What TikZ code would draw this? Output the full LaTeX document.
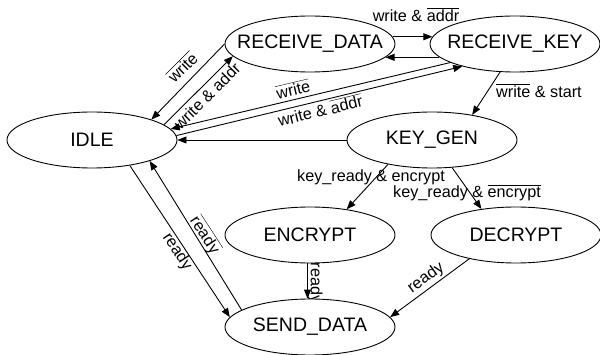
\documentclass[tikz,border=0pt]{standalone}
\usepackage{fontspec}
\setmainfont{Liberation Sans}
\usetikzlibrary{shapes.geometric,arrows.meta}
\tikzset{
  stnode/.style={ellipse, draw, fill=white, line width=0.9pt, minimum width=170pt, minimum height=56pt, inner sep=0pt, font=\fontsize{19.5}{20}\selectfont},
  lbl/.style={font=\fontsize{16.2}{17}\selectfont, inner sep=0pt},
  arr/.style={line width=0.9pt, -{Triangle[length=9pt,width=7pt]}}
}
\newcommand{\ovl}[1]{$\overline{\mbox{#1}}$}
\begin{document}
\begin{tikzpicture}[x=1pt,y=-1pt]
\useasboundingbox (0,0) rectangle (600,355);
% labels (drawn first so the ellipses cover their tails)
\node[lbl, rotate=45] (l1) at (182,67) {\ovl{write}};
\node[lbl, rotate=45] (l2) at (207,96) {write \& addr};
\node[lbl, rotate=13.3] (l3) at (293,89) {\ovl{write}};
\node[lbl, rotate=13.6] (l4) at (320,110) {write \& \ovl{addr}};
\node[lbl] (l5) at (416,15) {write \& \ovl{addr}};
\node[lbl] (l7) at (539,91) {\ovl{write} \& start};
\node[lbl] (l9) at (371,177) {key\_ready \& encrypt};
\node[lbl] (l10) at (467,193) {key\_ready \& \ovl{encrypt}};
\node[lbl, rotate=-90] (l11) at (315,283) {ready};
\node[lbl, rotate=36] (l12) at (426,278) {ready};
\node[lbl, rotate=-56.4] (l13) at (177,252) {ready};
\node[lbl, rotate=-57] (l14) at (205,235) {\ovl{ready}};
% states
\node[stnode] (idle) at (92,140) {\makebox[0pt]{IDLE}};
\node[stnode] (rd) at (310,44) {\makebox[0pt]{RECEIVE\_DATA}};
\node[stnode] (rk) at (515,44) {\makebox[0pt]{RECEIVE\_KEY}};
\node[stnode] (kg) at (432,140) {\makebox[0pt]{KEY\_GEN}};
\node[stnode] (enc) at (310,235) {\makebox[0pt]{ENCRYPT}};
\node[stnode] (dec) at (516,235) {\makebox[0pt]{DECRYPT}};
\node[stnode] (sd) at (310,327) {\makebox[0pt]{SEND\_DATA}};
% transitions
\draw[arr] (rd.180) -- (idle.19);
\draw[arr] (idle.12) -- (rd.189);
\draw[arr] (rk.196) -- (idle.8);
\draw[arr] (idle.3) -- (rk.203);
\draw[arr] (rd.5) -- (rk.175);
\draw[arr] (rk.190) -- (rd.-10);
\draw[arr] (rk.242) -- (kg.32);
\draw[arr] (kg.180) -- (idle.0);
\draw[arr] (kg.209) -- (enc.35);
\draw[arr] (kg.-54) -- (dec.143);
\draw[arr] (enc.265) -- (sd.95);
\draw[arr] (dec.207) -- (sd.7);
\draw[arr] (idle.-34) -- (sd.173);
\draw[arr] (sd.166) -- (idle.-20);
\end{tikzpicture}
\end{document}
